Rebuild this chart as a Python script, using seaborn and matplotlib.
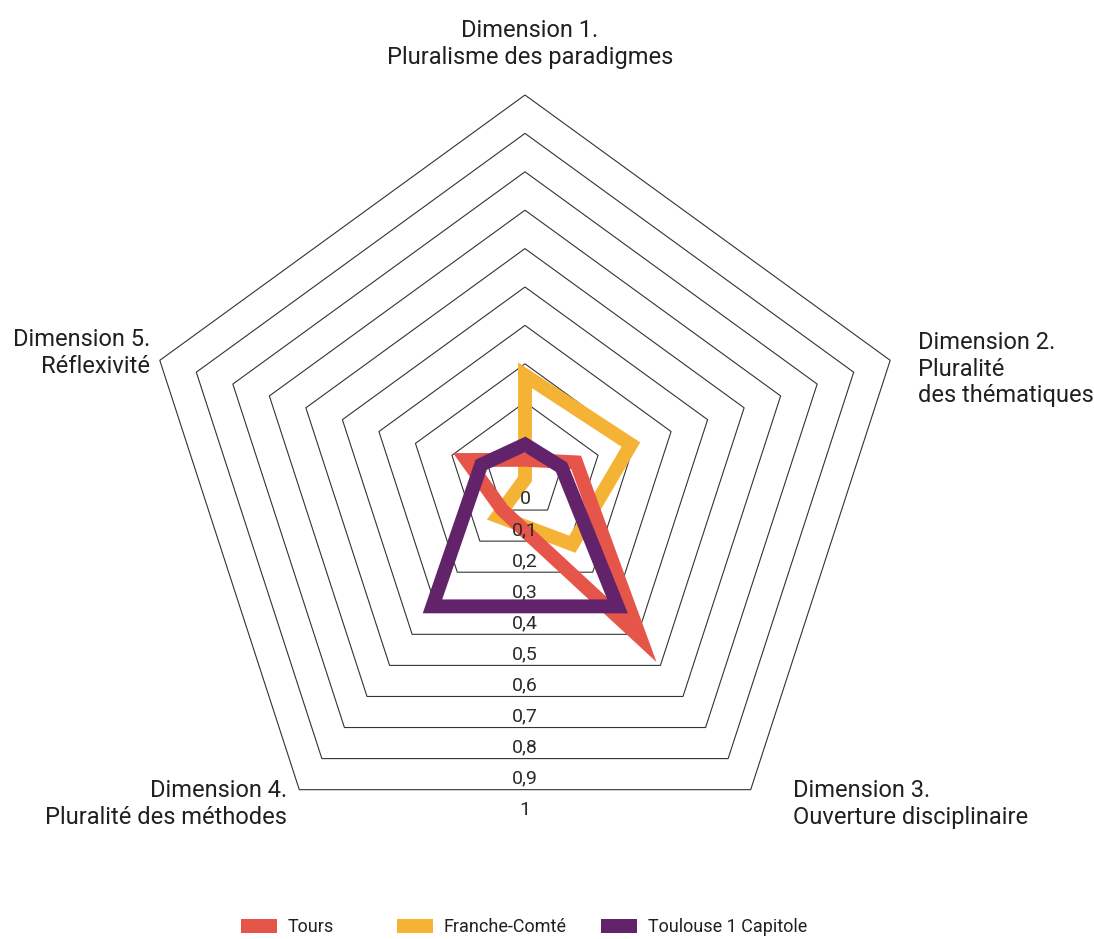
import numpy as np
import matplotlib
matplotlib.use("Agg")
import matplotlib.pyplot as plt
from matplotlib.patches import Patch
from matplotlib import transforms
import seaborn as sns

# data (scale 0 -> 1)
dimensions = ["Dimension 1.", "Dimension 2.", "Dimension 3.", "Dimension 4.", "Dimension 5."]
subtitles = ["Pluralisme des paradigmes", "Pluralité\ndes thématiques", "Ouverture disciplinaire",
             "Pluralité des méthodes", "Réflexivité"]
universities = ["Tours", "Franche-Comté", "Toulouse 1 Capitole"]
tours = [0.05, 0.14, 0.51, 0.10, 0.16]
franche_comte = [0.27, 0.29, 0.21, 0.12, 0.0]
toulouse = [0.09, 0.10, 0.41, 0.41, 0.12]
ticks = [0, 0.1, 0.2, 0.3, 0.4, 0.5, 0.6, 0.7, 0.8, 0.9, 1]
tick_labels = ["0", "0,1", "0,2", "0,3", "0,4", "0,5", "0,6", "0,7", "0,8", "0,9", "1"]
colors = ["#E5554A", "#F5B335", "#62236B"]

sns.set_theme(style="white")
plt.rcParams["font.family"] = ["Roboto", "DejaVu Sans"]
txt = "#231F20"

W, H = 1094, 939
fig = plt.figure(figsize=(W / 100, H / 100), dpi=100)
cx, cy, R = 525, 479, 384
ax = fig.add_axes([(cx - R) / W, (H - cy - R) / H, 2 * R / W, 2 * R / H], projection="polar")
ax.set_theta_zero_location("N")
ax.set_theta_direction(-1)
ax.set_ylim(0, 1)
ax.set_axis_off()

theta = np.linspace(0, 2 * np.pi, len(dimensions), endpoint=False)

# pentagon grid
for v in ticks[1:]:
    ax.fill(theta, [v] * len(theta), facecolor="none", edgecolor="#333333", lw=0.8,
            clip_on=False, zorder=1)

# series
series = [tours, franche_comte, toulouse]
zorders = [3, 2, 4]
for vals, c, z in zip(series, colors, zorders):
    ax.fill(theta, vals, facecolor="none", edgecolor=c, lw=10, joinstyle="miter",
            clip_on=False, zorder=z)

# radial labels below each ring
off = transforms.offset_copy(ax.transData, fig=fig, y=-20, units="dots")
for v, lab in zip(ticks, tick_labels):
    ax.text(np.pi, v * np.cos(np.pi / 5), lab, transform=off, ha="center", va="center",
            fontsize=14, color="#2b2b2b", zorder=5)

# dimension labels
fs = 17
fig.text(530 / W, 1 - 44 / H, dimensions[0] + "\n" + subtitles[0], ha="center", va="center",
         multialignment="center", fontsize=fs, color=txt)
fig.text(918 / W, 1 - 369 / H, dimensions[1] + "\n" + subtitles[1], ha="left", va="center",
         multialignment="left", fontsize=fs, color=txt)
fig.text(793 / W, 1 - 804 / H, dimensions[2] + "\n" + subtitles[2], ha="left", va="center",
         multialignment="left", fontsize=fs, color=txt)
fig.text(287 / W, 1 - 804 / H, dimensions[3] + "\n" + subtitles[3], ha="right", va="center",
         multialignment="right", fontsize=fs, color=txt)
fig.text(150 / W, 1 - 353 / H, dimensions[4] + "\n" + subtitles[4], ha="right", va="center",
         multialignment="right", fontsize=fs, color=txt)

# legend: one entry per slot, as in the original layout
slots = [241, 397, 601]
for n, c, x in zip(universities, colors, slots):
    fig.legend(handles=[Patch(facecolor=c, edgecolor="none", label=n)], loc="center left",
               bbox_to_anchor=(x / W, 1 - 927 / H), frameon=False, fontsize=13,
               handlelength=2.0, handleheight=0.8, handletextpad=0.6, borderpad=0,
               borderaxespad=0, labelcolor=txt)

fig.savefig("out.png", dpi=100)
